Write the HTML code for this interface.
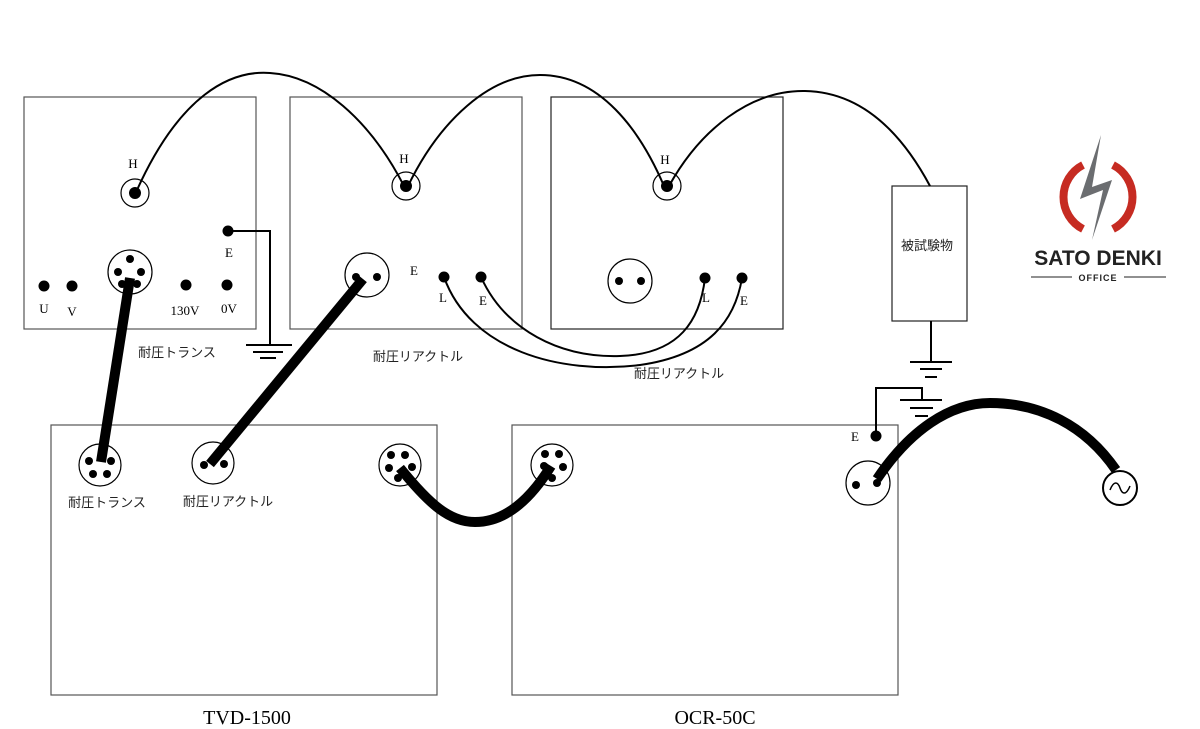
<!DOCTYPE html>
<html><head><meta charset="utf-8"><style>body{margin:0;background:#fff}svg{display:block}</style></head><body>
<svg width="1200" height="729" viewBox="0 0 1200 729" xmlns="http://www.w3.org/2000/svg" font-family="Liberation Serif, serif">
<g fill="none" stroke="#555" stroke-width="1.2">
<rect x="24" y="97" width="232" height="232"/>
<rect x="290" y="97" width="232" height="232"/>
<rect x="551" y="97" width="232" height="232" stroke="#222"/>
<rect x="51" y="425" width="386" height="270"/>
<rect x="512" y="425" width="386" height="270"/>
<rect x="892" y="186" width="75" height="135" stroke="#222"/>
</g>
<g fill="none" stroke="#000" stroke-width="2">
<path d="M137,190 C180,95 230,70 270,73 C320,76 370,120 404,186"/>
<path d="M408,186 C440,120 490,75 540,75 C600,75 640,130 664,186"/>
<path d="M669,186 C700,130 750,90 805,91 C860,92 900,130 930,186"/>
<path d="M444,277 C470,350 560,375 640,365 C710,355 735,320 742,278"/>
<path d="M481,277 C505,330 560,358 620,356 C680,354 700,320 705,278"/>
<path d="M228,231 H270 V345"/>
<path d="M931,321 V362"/>
<path d="M876,436 V388 H922 V400"/>
<path d="M246,345 H292 M253,352 H283 M260,358 H276" />
<path d="M910,362 H952 M920,369 H942 M925,377 H937"/>
<path d="M900,400 H942 M910,408 H933 M915,416 H928"/>
</g>
<g fill="none" stroke="#000" stroke-width="1.2">
<circle cx="135" cy="193" r="14"/><circle cx="406" cy="186" r="14"/><circle cx="667" cy="186" r="14"/>
<circle cx="130" cy="272" r="22"/><circle cx="367" cy="275" r="22"/><circle cx="630" cy="281" r="22"/>
<circle cx="100" cy="465" r="21"/><circle cx="213" cy="463" r="21"/><circle cx="400" cy="465" r="21"/><circle cx="552" cy="465" r="21"/>
<circle cx="868" cy="483" r="22"/>
<circle cx="1120" cy="488" r="17" stroke-width="2"/>
</g>
<path d="M1110,490 C1114,480 1118,482 1120,488 C1122,494 1126,496 1130,486" fill="none" stroke="#000" stroke-width="1.5"/>
<g fill="#000">
<circle cx="135" cy="193" r="6"/><circle cx="406" cy="186" r="6"/><circle cx="667" cy="186" r="6"/>
<circle cx="228" cy="231" r="5.5"/>
<circle cx="44" cy="286" r="5.5"/><circle cx="72" cy="286" r="5.5"/><circle cx="186" cy="285" r="5.5"/><circle cx="227" cy="285" r="5.5"/>
<circle cx="130" cy="259" r="4"/><circle cx="118" cy="272" r="4"/><circle cx="141" cy="272" r="4"/><circle cx="122" cy="284" r="4"/><circle cx="137" cy="284" r="4"/>
<circle cx="356" cy="277" r="4"/><circle cx="377" cy="277" r="4"/>
<circle cx="444" cy="277" r="5.5"/><circle cx="481" cy="277" r="5.5"/>
<circle cx="619" cy="281" r="4"/><circle cx="641" cy="281" r="4"/>
<circle cx="705" cy="278" r="5.5"/><circle cx="742" cy="278" r="5.5"/>
<circle cx="89" cy="461" r="4"/><circle cx="111" cy="461" r="4"/><circle cx="93" cy="474" r="4"/><circle cx="107" cy="474" r="4"/>
<circle cx="204" cy="465" r="4"/><circle cx="224" cy="464" r="4"/>
<circle cx="391" cy="455" r="4"/><circle cx="405" cy="455" r="4"/><circle cx="389" cy="468" r="4"/><circle cx="412" cy="467" r="4"/><circle cx="398" cy="478" r="4"/>
<circle cx="545" cy="454" r="4"/><circle cx="559" cy="454" r="4"/><circle cx="563" cy="467" r="4"/><circle cx="544" cy="466" r="4"/><circle cx="552" cy="478" r="4"/>
<circle cx="876" cy="436" r="5.5"/>
<circle cx="856" cy="485" r="4"/><circle cx="877" cy="483" r="4"/>
</g>
<g fill="none" stroke="#000" stroke-width="10">
<path d="M130,278 L101,462"/>
<path d="M363,279 L210,464"/>
<path d="M400,468 C430,505 450,522 475,522 C505,522 530,500 551,466"/>
<path d="M877,479 C910,430 950,403 990,403 C1040,403 1085,425 1116,470"/>
</g>
<g font-size="13" text-anchor="middle" fill="#000">
<text x="133" y="168">H</text><text x="404" y="163">H</text><text x="665" y="164">H</text>
<text x="229" y="257">E</text>
<text x="44" y="313">U</text><text x="72" y="316">V</text><text x="185" y="315">130V</text><text x="229" y="313">0V</text>
<text x="414" y="275">E</text><text x="443" y="302">L</text><text x="483" y="305">E</text>
<text x="706" y="302">L</text><text x="744" y="305">E</text>
<text x="855" y="441">E</text>
</g>
<g font-family="Liberation Sans, Noto Sans CJK JP, sans-serif" font-size="13" text-anchor="middle" fill="#222">
<text x="177" y="357">耐圧トランス</text>
<text x="418" y="361">耐圧リアクトル</text>
<text x="679" y="378">耐圧リアクトル</text>
<text x="107" y="507">耐圧トランス</text>
<text x="228" y="506">耐圧リアクトル</text>
<text x="927" y="250">被試験物</text>
</g>
<text x="247" y="724" font-size="20" text-anchor="middle">TVD-1500</text>
<text x="715" y="724" font-size="20" text-anchor="middle">OCR-50C</text>
<g>
<path d="M1083,165 A36,36 0 0 0 1083,229" fill="none" stroke="#c62b22" stroke-width="8"/>
<path d="M1113,165 A36,36 0 0 1 1113,229" fill="none" stroke="#c62b22" stroke-width="8"/>
<path d="M1101,135 L1080,199 L1103,190 L1092,240 L1112,180 L1092,187 Z" fill="#6b6d70"/>
<text x="1098" y="265" font-family="Liberation Sans, sans-serif" font-weight="bold" font-size="21" text-anchor="middle" fill="#222">SATO DENKI</text>
<text x="1098" y="281" font-family="Liberation Sans, sans-serif" font-weight="bold" font-size="9" text-anchor="middle" fill="#222" letter-spacing="1">OFFICE</text>
<path d="M1031,277 H1072 M1124,277 H1166" stroke="#222" stroke-width="1"/>
</g>
</svg>
</body></html>
